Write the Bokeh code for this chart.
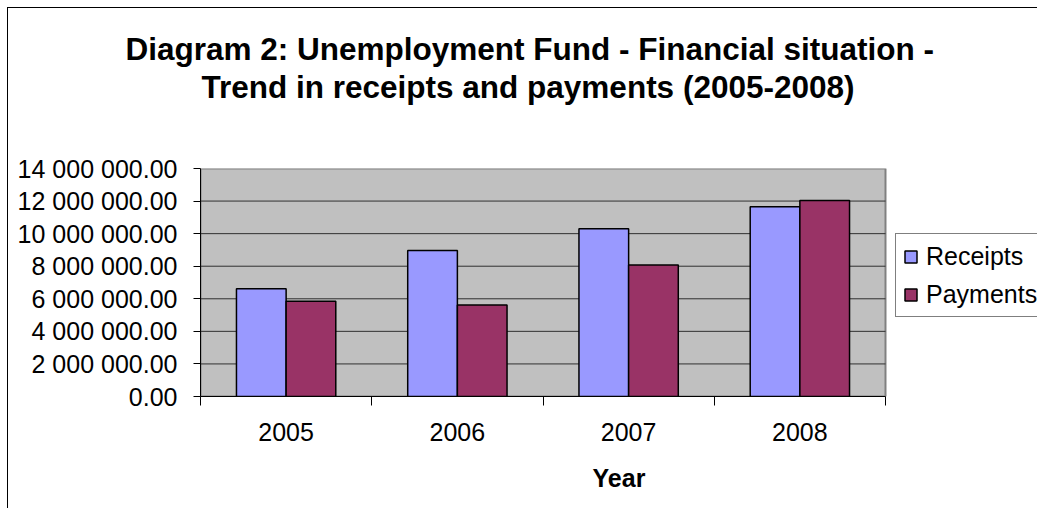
import numpy as np
from bokeh.plotting import figure
from bokeh.models import ColumnDataSource, FixedTicker, Range1d, Legend, LegendItem, Title
from bokeh.transform import dodge
from bokeh.embed import file_html
from bokeh.resources import INLINE

# ---- data ----
years = ["2005", "2006", "2007", "2008"]
receipts = [6620000, 8960000, 10300000, 11650000]
payments = [5850000, 5620000, 8080000, 12040000]
series_names = ["Receipts", "Payments"]
y_ticks = [0, 2000000, 4000000, 6000000, 8000000, 10000000, 12000000, 14000000]
y_tick_labels = ["0.00", "2 000 000.00", "4 000 000.00", "6 000 000.00",
                 "8 000 000.00", "10 000 000.00", "12 000 000.00", "14 000 000.00"]
title_lines = ["Diagram 2: Unemployment Fund - Financial situation -",
               "Trend in receipts and payments (2005-2008)"]
x_label = "Year"

# ---- layout / style ----
colors = ["#9999FF", "#993366"]
FONT = "Liberation Sans"
W, H = 1037, 508
LEFT, PLOT_RIGHT, TOP, BOTTOM = 200, 885, 168, 396
# the frame runs to the right edge so the legend can sit beside the grey plot area
x_end = len(years) * (W - LEFT) / (PLOT_RIGHT - LEFT)

pos = np.arange(len(years)) + 0.5
src = ColumnDataSource(dict(x=pos, year=years, receipts=receipts, payments=payments))

p = figure(width=W, height=H, output_backend="svg", toolbar_location=None,
           x_range=Range1d(0, x_end), y_range=Range1d(y_ticks[0], y_ticks[-1]),
           min_border_left=LEFT, min_border_right=0, min_border_top=TOP,
           min_border_bottom=H - BOTTOM, title=None)
p.background_fill_color = "white"
p.border_fill_color = None
p.outline_line_color = None
p.styles = {"background": "linear-gradient(#000,#000) 7px 7px / 1px calc(100% - 7px) no-repeat, "
                          "linear-gradient(#000,#000) 7px 7px / calc(100% - 7px) 1px no-repeat, #ffffff"}

xa = p.below[0]
ya = p.left[0]

# blank spacer panel between the plot area and the title block
p.add_layout(Title(text=" ", standoff=24, text_font=FONT, text_font_size="31.5px"), "above")

# two title lines, each placed above the plot (first added is closest)
for line, off in [(title_lines[1], 1), (title_lines[0], -75)]:
    t = Title(text=line, align="left", vertical_align="top", offset=off, standoff=0,
              text_font=FONT, text_font_size="31.5px", text_font_style="bold",
              text_color="black")
    p.add_layout(t, "above")

# grey plot area + horizontal gridlines
p.quad(left=0, right=len(years), bottom=y_ticks[0], top=y_ticks[-1],
       fill_color="#C0C0C0", line_color="#808080", line_width=2)
p.segment(x0=0, x1=len(years), y0=y_ticks[1:-1], y1=y_ticks[1:-1],
          line_color="#303030", line_width=1)

bw = 0.29
r1 = p.vbar(x=dodge("x", -bw / 2, range=p.x_range), top="receipts", width=bw, source=src,
            fill_color=colors[0], line_color="black", line_width=1.5)
r2 = p.vbar(x=dodge("x", bw / 2, range=p.x_range), top="payments", width=bw, source=src,
            fill_color=colors[1], line_color="black", line_width=1.5)

# x axis: labels at category centres, tick marks at category boundaries
xa.bounds = (0, len(years))
xa.ticker = FixedTicker(ticks=list(pos), minor_ticks=list(range(len(years) + 1)))
xa.major_label_overrides = {float(v): y for v, y in zip(pos, years)}
xa.major_tick_line_color = None
xa.major_tick_out = 9
xa.major_tick_in = 0
xa.minor_tick_line_color = "black"
xa.minor_tick_out = 9
xa.minor_tick_in = 0
xa.axis_line_color = "black"
xa.major_label_standoff = 17
xa.major_label_text_font = FONT
xa.major_label_text_font_size = "25px"
xa.major_label_text_color = "black"
xa.axis_label = x_label
xa.axis_label_text_font = FONT
xa.axis_label_text_font_size = "25px"
xa.axis_label_text_font_style = "bold"
xa.axis_label_text_color = "black"
xa.axis_label_standoff = 20

ya.ticker = FixedTicker(ticks=y_ticks, minor_ticks=[])
ya.major_label_overrides = {v: l for v, l in zip(y_ticks, y_tick_labels)}
ya.major_tick_out = 7
ya.major_tick_in = 0
ya.major_tick_line_color = "black"
ya.minor_tick_line_color = None
ya.axis_line_color = "black"
ya.major_label_standoff = 16
ya.major_label_text_font = FONT
ya.major_label_text_font_size = "25px"
ya.major_label_text_color = "black"

p.xgrid.visible = False
p.ygrid.visible = False

legend = Legend(items=[LegendItem(label=series_names[0], renderers=[r1]),
                       LegendItem(label=series_names[1], renderers=[r2])],
                location=(PLOT_RIGHT - LEFT + 10, 79))
legend.label_text_font = FONT
legend.label_text_font_size = "25px"
legend.label_text_color = "black"
legend.glyph_width = 15
legend.glyph_height = 15
legend.label_height = 30
legend.label_standoff = 8
legend.padding = 7
legend.spacing = 8
legend.margin = 0
legend.border_line_color = "black"
legend.border_line_width = 1
legend.background_fill_color = "white"
legend.background_fill_alpha = 1.0
p.add_layout(legend)

open("out.html", "w").write(file_html(p, INLINE))
